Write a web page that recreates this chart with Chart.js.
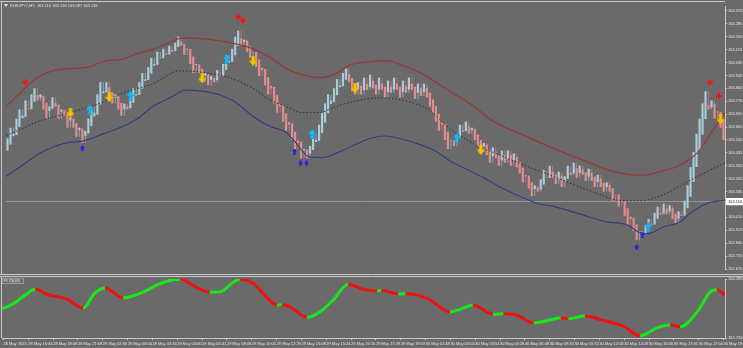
<!DOCTYPE html>
<html lang="en">
<head>
<meta charset="UTF-8">
<title>EURJPY#,M5</title>
<script src="https://cdn.jsdelivr.net/npm/chart.js"></script>
<style>
    html, body { margin: 0; padding: 0; background: #6a6a6a; }
    body { width: 743px; height: 348px; position: relative; overflow: hidden; }
    #mainChart { position: absolute; left: 0; top: 0; }
    #indChart { position: absolute; left: 0; top: 275px; }
</style>
</head>
<body>
<canvas id="mainChart" width="743" height="275"></canvas>
<canvas id="indChart" width="743" height="73"></canvas>
<script>
// values (one bar per index, 240 bars)
const firstOpen = 163.45;
const closes = [
    163.53, 163.60, 163.56, 163.66, 163.72, 163.68, 163.78, 163.72, 163.82, 163.86,
    163.78, 163.82, 163.72, 163.66, 163.74, 163.80, 163.74, 163.66, 163.72, 163.68,
    163.60, 163.67, 163.60, 163.54, 163.60, 163.50, 163.58, 163.66, 163.74, 163.70,
    163.82, 163.90, 163.84, 163.90, 163.80, 163.76, 163.82, 163.72, 163.68, 163.76,
    163.72, 163.80, 163.86, 163.82, 163.90, 163.96, 163.92, 164.00, 164.06, 164.02,
    164.10, 164.06, 164.12, 164.08, 164.14, 164.10, 164.16, 164.20, 164.14, 164.08,
    164.12, 164.02, 163.96, 164.02, 163.96, 163.90, 163.96, 163.88, 163.94, 163.90,
    163.98, 163.94, 164.02, 164.08, 164.04, 164.12, 164.20, 164.24, 164.14, 164.18,
    164.10, 164.06, 164.10, 164.00, 163.94, 163.98, 163.88, 163.82, 163.86, 163.76,
    163.70, 163.74, 163.64, 163.58, 163.62, 163.52, 163.46, 163.50, 163.40, 163.46,
    163.40, 163.48, 163.56, 163.52, 163.62, 163.70, 163.76, 163.82, 163.78, 163.86,
    163.92, 163.88, 163.96, 163.99, 163.90, 163.84, 163.82, 163.90, 163.82, 163.93,
    163.85, 163.95, 163.86, 163.82, 163.93, 163.85, 163.80, 163.91, 163.83, 163.93,
    163.85, 163.80, 163.91, 163.83, 163.93, 163.85, 163.79, 163.89, 163.81, 163.89,
    163.80, 163.74, 163.70, 163.64, 163.58, 163.62, 163.52, 163.46, 163.52, 163.48,
    163.56, 163.62, 163.58, 163.64, 163.56, 163.60, 163.52, 163.48, 163.44, 163.50,
    163.42, 163.37, 163.47, 163.40, 163.35, 163.45, 163.37, 163.45, 163.35, 163.43,
    163.34, 163.30, 163.24, 163.28, 163.20, 163.15, 163.22, 163.18, 163.26, 163.32,
    163.27, 163.35, 163.27, 163.23, 163.31, 163.21, 163.28, 163.35, 163.29, 163.37,
    163.27, 163.35, 163.29, 163.25, 163.33, 163.25, 163.21, 163.29, 163.21, 163.18,
    163.24, 163.18, 163.12, 163.16, 163.08, 163.12, 163.02, 162.96, 163.00, 162.92,
    162.86, 162.92, 162.90, 162.96, 163.00, 162.96, 163.04, 163.08, 163.03, 163.10,
    163.03, 163.09, 163.00, 162.97, 163.05, 163.02, 163.12, 163.22, 163.34, 163.44,
    163.56, 163.66, 163.76, 163.84, 163.72, 163.78, 163.66, 163.70, 163.60, 163.52
];

const priceTicks = [
    164.370, 164.285, 164.200, 164.115, 164.030, 163.945, 163.860, 163.775, 163.690, 163.605,
    163.520, 163.435, 163.350, 163.265, 163.180, 163.095, 163.010, 162.925, 162.840, 162.755, 162.670
];
const currentPrice = 163.116;
const headerText = 'EURJPY#,M5  163.116 163.136 163.087 163.116';

// envelope lines, [bar index, price]
const upperBand = [
    [-0.5, 163.74], [10, 163.93], [16, 163.98], [27, 164.00], [32.5, 164.04], [38, 164.05], [43.5, 164.09],
    [49, 164.12], [55, 164.17], [58, 164.19], [61.5, 164.19], [68, 164.18], [74.5, 164.16], [82, 164.12],
    [88, 164.06], [93, 163.99], [99, 163.945], [104.5, 163.93], [110, 163.96], [114.5, 164.015], [121, 164.035],
    [126.5, 164.04], [132, 164.01], [137.5, 163.965], [143, 163.90], [148.5, 163.83], [154, 163.765], [162, 163.645],
    [173, 163.545], [184, 163.45], [193, 163.38], [201, 163.32], [208.5, 163.29], [212.5, 163.288], [217.5, 163.31],
    [224, 163.35], [230.5, 163.44], [235, 163.57], [239.5, 163.70]
];
const middleBand = [
    [-0.5, 163.55], [4.5, 163.59], [10, 163.64], [21, 163.70], [32, 163.77], [38.5, 163.83], [48.5, 163.89],
    [57.5, 163.975], [65, 163.965], [74, 163.93], [82, 163.86], [87.5, 163.785], [93, 163.74], [98.5, 163.70],
    [104, 163.70], [109.5, 163.74], [115, 163.77], [124, 163.797], [129.5, 163.79], [135, 163.765], [140.5, 163.72],
    [148, 163.59], [159, 163.46], [161.5, 163.443], [172.5, 163.353], [183.5, 163.27], [194.5, 163.185],
    [205.5, 163.12], [211.5, 163.12], [220, 163.17], [228, 163.255], [239.5, 163.37]
];
const lowerBand = [
    [-0.5, 163.28], [5, 163.353], [10, 163.423], [15.5, 163.475], [21, 163.505], [24.5, 163.51], [32, 163.56],
    [37.5, 163.60], [43, 163.655], [48.5, 163.74], [54.5, 163.80], [59.5, 163.848], [65, 163.842], [71, 163.816],
    [76, 163.77], [82, 163.675], [87.5, 163.61], [93, 163.57], [96, 163.507], [100.5, 163.41], [105, 163.404],
    [109.5, 163.43], [115, 163.48], [120.5, 163.526], [126, 163.546], [131.5, 163.526], [137, 163.494],
    [142.5, 163.45], [148, 163.378], [154, 163.32], [159, 163.27], [165, 163.204], [167, 163.185], [176, 163.108],
    [183.5, 163.076], [194.5, 163.011], [200, 162.98], [207, 162.96], [210.5, 162.915], [213.5, 162.902],
    [219, 162.947], [224.5, 162.98], [229, 163.056], [234.5, 163.108], [239.5, 163.122]
];

// signal marks, [bar index, price]
const sellArrows = [[21, 163.700], [34, 163.803], [65, 163.926], [82, 164.042], [116, 163.861], [158, 163.456], [238, 163.655]];
const buyArrows = [[27.4, 163.720], [41, 163.810], [73.2, 164.054], [101.7, 163.559], [150, 163.533], [214, 162.947]];
const lowMarks = [[25, 163.465], [95.8, 163.443], [97.8, 163.365], [99.8, 163.365], [210, 162.812], [212, 162.895]];
const highMarks = [[6, 163.900], [77, 164.331], [78.6, 164.306], [234.5, 163.900], [237.5, 163.810]];

// lower pane oscillator, [bar index, value]
const indicator = [
    [-0.5, 163.50], [3.6, 163.65], [7.8, 163.90], [10.5, 164.02], [14.8, 163.87], [21, 163.76], [26.4, 163.52],
    [30.4, 163.92], [33.7, 164.05], [39.7, 163.79], [46.3, 163.94], [51, 164.13], [55.3, 164.25], [58.6, 164.28],
    [65.2, 164.02], [68.5, 163.94], [72, 163.95], [76, 164.18], [78.5, 164.28], [82.8, 164.18], [87.5, 163.79],
    [90.8, 163.60], [92.4, 163.61], [95.1, 163.55], [100.7, 163.28], [105, 163.42], [109.4, 163.73], [114.4, 164.15],
    [119.3, 164.02], [124, 163.97], [125.5, 163.99], [131, 163.89], [133.5, 163.90], [140.6, 163.78], [148.2, 163.42],
    [152, 163.50], [155.8, 163.60], [162.5, 163.36], [166, 163.37], [170.5, 163.33], [176, 163.13], [181, 163.20],
    [185, 163.26], [187.5, 163.24], [193, 163.31], [199, 163.20], [205.6, 163.05], [211.3, 162.79], [217, 163.00],
    [221.3, 163.08], [224.6, 163.03], [230.3, 163.42], [234.5, 163.94], [236.8, 164.00], [239.5, 163.86]
];
const indicatorMin = 162.7326;
const indicatorMax = 164.2858;
const indicatorName = 'FL23(40)';

const tickLabels = [
    '28 May 2025', '28 May 16:43', '28 May 18:08', '28 May 21:08', '29 May 02:33', '29 May 03:00',
    '29 May 03:16', '29 May 04:00', '29 May 05:41', '29 May 08:48', '29 May 10:01', '29 May 12:29',
    '29 May 15:08', '29 May 15:24', '29 May 16:10', '29 May 17:29', '29 May 19:03', '30 May 01:48',
    '30 May 03:02', '30 May 03:54', '30 May 04:28', '30 May 06:48', '30 May 08:32', '30 May 10:32',
    '30 May 12:03', '30 May 14:28', '30 May 15:30', '30 May 17:01', '30 May 17:50', '30 May 19:40'
];

const AXIS = '#c8c8c8';
const TEXT = '#e4e4e4';
const FONT = { family: 'Liberation Sans, Arial, sans-serif', size: 4 };

function arrowImage(color, edge, w, h, down) {
    const c = document.createElement('canvas');
    c.width = w; c.height = h;
    const g = c.getContext('2d');
    const hh = Math.round(h * 0.5), sw = Math.max(1.6, w * 0.4);
    g.save();
    if (down) { g.translate(0, h); g.scale(1, -1); }
    g.beginPath();
    g.moveTo(w / 2, 0);
    g.lineTo(w, hh);
    g.lineTo((w + sw) / 2, hh);
    g.lineTo((w + sw) / 2, h);
    g.lineTo((w - sw) / 2, h);
    g.lineTo((w - sw) / 2, hh);
    g.lineTo(0, hh);
    g.closePath();
    g.fillStyle = color;
    g.fill();
    if (edge) { g.strokeStyle = edge; g.lineWidth = 0.6; g.stroke(); }
    g.restore();
    return c;
}

const pts = arr => arr.map(([x, y]) => ({ x, y }));

// heikin-ashi style bodies: open is the midpoint of the previous body
const opens = [firstOpen];
closes.forEach((c, i) => { if (i > 0) opens.push((opens[i - 1] + closes[i - 1]) / 2); });
const candles = closes.map((c, i) => ({ x: i, y: [opens[i], c] }));
const isUp = closes.map((c, i) => c >= opens[i]);
const candleColors = isUp.map(u => u ? '#a8cede' : '#e58c8c');
// wick spans the previous close as well
const wicks = closes.map((c, i) => {
    const prev = i === 0 ? firstOpen : closes[i - 1];
    return { x: i, y: [Math.min(prev, opens[i], c), Math.max(prev, opens[i], c)] };
});
const wickColors = isUp.map(u => u ? '#86acbc' : '#c27474');

const mainDecor = {
    id: 'mainDecor',
    beforeDatasetsDraw(chart) {
        const { ctx, chartArea, scales } = chart;
        const y = Math.round(scales.y.getPixelForValue(currentPrice)) + 0.5;
        ctx.save();
        ctx.strokeStyle = '#8e98a2';
        ctx.lineWidth = 1;
        ctx.beginPath();
        ctx.moveTo(chartArea.left, y);
        ctx.lineTo(chartArea.right, y);
        ctx.stroke();
        ctx.restore();
    },
    afterDraw(chart) {
        const { ctx, chartArea, scales } = chart;
        ctx.save();
        ctx.strokeStyle = AXIS;
        ctx.lineWidth = 1;
        ctx.beginPath();
        ctx.moveTo(0, 1.5); ctx.lineTo(chartArea.right, 1.5);
        ctx.moveTo(1.5, 1.5); ctx.lineTo(1.5, 275);
        ctx.moveTo(0, 274.5); ctx.lineTo(743, 274.5);
        ctx.stroke();
        // header
        ctx.fillStyle = TEXT;
        ctx.beginPath();
        ctx.moveTo(4, 4); ctx.lineTo(8, 4); ctx.lineTo(6, 7); ctx.closePath();
        ctx.fill();
        ctx.font = '4px Liberation Sans, Arial, sans-serif';
        ctx.textBaseline = 'middle';
        ctx.fillText(headerText, 10, 5.5);
        // current price box
        const y = Math.round(scales.y.getPixelForValue(currentPrice));
        ctx.fillStyle = '#ffffff';
        ctx.fillRect(chartArea.right + 1, y - 3, 17, 7);
        ctx.fillStyle = '#202020';
        ctx.fillText(currentPrice.toFixed(3), chartArea.right + 3, y + 0.5);
        ctx.restore();
    }
};

new Chart(document.getElementById('mainChart'), {
    type: 'bar',
    data: {
        datasets: [
            { type: 'scatter', data: pts(sellArrows), pointStyle: arrowImage('#f7c600', '#d9a400', 8, 10, true), order: 0 },
            { type: 'scatter', data: pts(buyArrows), pointStyle: arrowImage('#1cb6f0', '#1296c8', 8, 10, false), order: 0 },
            { type: 'scatter', data: pts(lowMarks), pointStyle: arrowImage('#1d1df2', null, 5, 6, false), order: 0 },
            { type: 'scatter', data: pts(highMarks), pointStyle: 'cross', pointRadius: 3, borderWidth: 2, borderColor: '#ff1010', order: 0 },
            { type: 'line', data: pts(upperBand), borderColor: '#983838', borderWidth: 1.2, pointRadius: 0, cubicInterpolationMode: 'monotone', order: 1 },
            { type: 'line', data: pts(middleBand), borderColor: '#2e2e2e', borderWidth: 1, borderDash: [1.5, 2], pointRadius: 0, cubicInterpolationMode: 'monotone', order: 1 },
            { type: 'line', data: pts(lowerBand), borderColor: '#3a3a80', borderWidth: 1.2, pointRadius: 0, cubicInterpolationMode: 'monotone', order: 1 },
            { type: 'bar', data: candles, backgroundColor: candleColors, borderWidth: 0, barPercentage: 0.72, categoryPercentage: 1, grouped: false, order: 2 },
            { type: 'bar', data: wicks, backgroundColor: wickColors, borderWidth: 0, barPercentage: 0.3, categoryPercentage: 1, grouped: false, order: 3 }
        ]
    },
    options: {
        responsive: false,
        animation: false,
        layout: { padding: { left: 2, top: 4, right: 0, bottom: 2 } },
        plugins: { legend: { display: false }, tooltip: { enabled: false } },
        scales: {
            x: { type: 'linear', min: -0.5, max: 239.5, offset: false, display: false },
            y: {
                position: 'right',
                min: 162.670,
                max: 164.402,
                afterBuildTicks: s => { s.ticks = priceTicks.map(v => ({ value: v })); },
                afterFit: s => { s.width = 18; s.paddingTop = 0; s.paddingBottom = 0; },
                ticks: { color: TEXT, font: FONT, padding: 1, callback: v => v.toFixed(3) },
                grid: { display: true, drawOnChartArea: false, tickLength: 2, color: AXIS },
                border: { color: AXIS }
            }
        }
    },
    plugins: [mainDecor]
});

const indDecor = {
    id: 'indDecor',
    afterDraw(chart) {
        const { ctx } = chart;
        ctx.save();
        ctx.strokeStyle = AXIS;
        ctx.lineWidth = 1;
        ctx.beginPath();
        ctx.moveTo(0, 1.5); ctx.lineTo(743, 1.5);
        ctx.moveTo(1.5, 1.5); ctx.lineTo(1.5, 63);
        ctx.stroke();
        ctx.strokeStyle = '#9a9a9a';
        ctx.strokeRect(2.5, 3.5, 21, 5);
        ctx.fillStyle = TEXT;
        ctx.font = '4px Liberation Sans, Arial, sans-serif';
        ctx.textBaseline = 'middle';
        ctx.fillText(indicatorName, 4, 6.2);
        ctx.restore();
    }
};

new Chart(document.getElementById('indChart'), {
    type: 'line',
    data: {
        datasets: [{
            data: pts(indicator),
            borderWidth: 3,
            pointRadius: 0,
            cubicInterpolationMode: 'monotone',
            borderColor: '#18e818',
            segment: { borderColor: c => c.p1.parsed.y >= c.p0.parsed.y ? '#18e818' : '#f01010' }
        }]
    },
    options: {
        responsive: false,
        animation: false,
        layout: { padding: { left: 2, top: 4, right: 0, bottom: 0 } },
        plugins: { legend: { display: false }, tooltip: { enabled: false } },
        scales: {
            x: {
                type: 'linear', min: -0.5, max: 239.5, offset: false,
                afterBuildTicks: s => { s.ticks = tickLabels.map((t, k) => ({ value: k * 239 / (tickLabels.length - 1) })); },
                afterFit: s => { s.height = 10; s.paddingLeft = 0; s.paddingRight = 0; },
                ticks: { color: TEXT, font: FONT, align: 'start', maxRotation: 0, autoSkip: false, padding: 1, callback: (v, i) => tickLabels[i] },
                grid: { display: true, drawOnChartArea: false, tickLength: 2, color: AXIS },
                border: { color: AXIS }
            },
            y: {
                position: 'right',
                min: indicatorMin,
                max: indicatorMax,
                afterBuildTicks: s => { s.ticks = [{ value: indicatorMax }, { value: indicatorMin }]; },
                afterFit: s => { s.width = 18; s.paddingTop = 0; s.paddingBottom = 0; },
                ticks: { color: TEXT, font: FONT, padding: 1, callback: v => v.toFixed(4) },
                grid: { display: true, drawOnChartArea: false, tickLength: 2, color: AXIS },
                border: { color: AXIS }
            }
        }
    },
    plugins: [indDecor]
});
</script>
</body>
</html>
